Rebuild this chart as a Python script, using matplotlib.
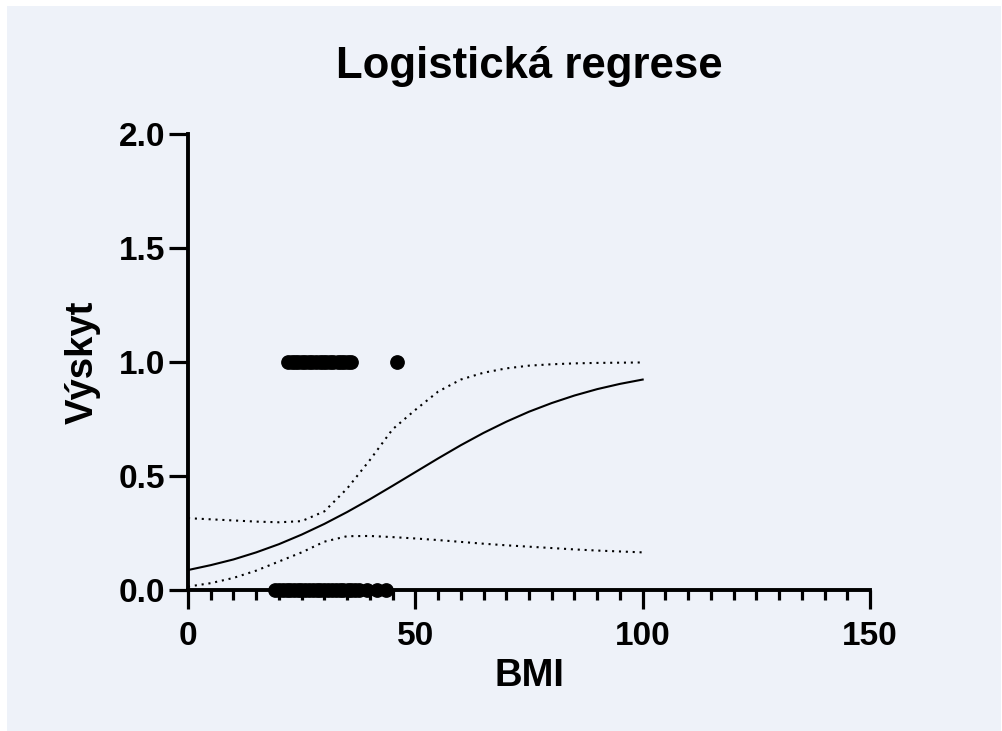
import matplotlib
matplotlib.use("Agg")
import matplotlib.pyplot as plt
from matplotlib.patches import Rectangle
from matplotlib.ticker import MultipleLocator, FormatStrFormatter

# observed outcomes
bmi_yes = [22.1, 22.9, 23.5, 24.2, 25.0, 25.8, 26.6, 27.3, 28.1, 29.0, 29.7,
           30.4, 31.2, 32.0, 32.9, 33.6, 34.4, 35.2, 35.9, 46.0]
bmi_no = [19.1, 20.0, 20.8, 21.7, 22.5, 23.4, 24.1, 24.9, 25.8, 26.6, 27.5,
          28.3, 29.1, 30.0, 30.8, 31.7, 32.5, 33.4, 34.2, 35.1, 35.9, 36.8,
          37.6, 39.4, 41.6, 43.5]

# fitted curve and its confidence band
curve_x = [0, 5, 10, 15, 20, 25, 30, 35, 40, 45, 50,
           55, 60, 65, 70, 75, 80, 85, 90, 95, 100]
curve_fit = [0.0875, 0.109, 0.134, 0.165, 0.201, 0.243, 0.290, 0.342, 0.398,
             0.457, 0.517, 0.577, 0.635, 0.689, 0.738, 0.782, 0.820, 0.853,
             0.881, 0.904, 0.923]
band_upper = [0.315, 0.310, 0.305, 0.300, 0.297, 0.302, 0.345, 0.445, 0.570,
              0.705, 0.790, 0.870, 0.923, 0.953, 0.972, 0.984, 0.990, 0.994,
              0.996, 0.997, 0.998]
band_lower = [0.015, 0.030, 0.053, 0.085, 0.125, 0.165, 0.212, 0.236, 0.237,
              0.232, 0.226, 0.219, 0.211, 0.203, 0.196, 0.190, 0.184, 0.178,
              0.173, 0.169, 0.165]

BG = "#eef2f9"
plt.rcParams["font.family"] = "Liberation Sans"
plt.rcParams["font.weight"] = "bold"

W, H = 1002, 731
fig = plt.figure(figsize=(W / 100, H / 100), dpi=100, facecolor="white")
fig.patches.append(Rectangle((7 / W, 0), 1 - 8 / W, 1 - 6 / H,
                             transform=fig.transFigure, facecolor=BG,
                             edgecolor="none", zorder=-10))

ax = fig.add_axes([188 / W, 1 - 590 / H, (870 - 188) / W, (590 - 134) / H])
ax.set_facecolor("none")

ax.plot(curve_x, curve_fit, color="black", lw=1.5, zorder=3)
ax.plot(curve_x, band_upper, color="black", lw=1.5, ls=(0, (1, 2.3)), zorder=3)
ax.plot(curve_x, band_lower, color="black", lw=1.5, ls=(0, (1, 2.3)), zorder=3)

ax.plot(bmi_yes, [1] * len(bmi_yes), "o", color="black", ms=9.6,
        clip_on=False, zorder=4)
ax.plot(bmi_no, [0] * len(bmi_no), "o", color="black", ms=9.6,
        clip_on=False, zorder=4)

ax.set_xlim(0, 150)
ax.set_ylim(0, 2.0)
ax.xaxis.set_major_locator(MultipleLocator(50))
ax.xaxis.set_minor_locator(MultipleLocator(5))
ax.yaxis.set_major_locator(MultipleLocator(0.5))
ax.yaxis.set_major_formatter(FormatStrFormatter("%.1f"))

for side in ["top", "right"]:
    ax.spines[side].set_visible(False)
for side in ["left", "bottom"]:
    ax.spines[side].set_linewidth(2.8)

ax.tick_params(which="major", length=13.5, width=2.3, labelsize=24)
ax.tick_params(axis="y", which="major", pad=3)
ax.tick_params(axis="x", which="major", pad=8.5)
ax.tick_params(which="minor", length=7.5, width=2.3)
ax.tick_params(axis="y", which="minor", left=False)

ax.set_title("Logistická regrese", fontsize=31.5, fontweight="bold", pad=40)
fig.text(529 / W, 1 - 686 / H, "BMI", fontsize=27.5, fontweight="bold",
         ha="center", va="baseline")
fig.text(83 / W, 1 - 362 / H, "Výskyt", fontsize=27.5, fontweight="bold",
         rotation=90, ha="center", va="center")

fig.savefig("out.png", dpi=100, facecolor="white")
